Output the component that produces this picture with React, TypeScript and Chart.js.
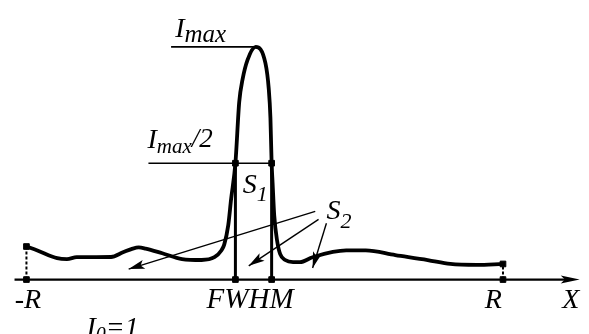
import React, { useEffect, useRef } from "react";
import { Chart, registerables } from "chart.js";

Chart.register(...registerables);

// Intensity profile (x in units where R = 100, y in units of I0)
const curveX = [-100, -95.4, -87.1, -83.0, -78.9, -64.5, -59.5, -55.4, -52.9, -50.0, -43.0, -34.7, -26.5, -21.1, -18.2, -17.0, -15.3, -14.1, -12.3, -10.7, -9.3, -7.2, -3.8, 0.3, 1.7, 2.4, 2.9, 3.3, 4.0, 5.2, 6.5, 8.6, 11.9, 14.8, 20.1, 34.2, 42.4, 54.8, 68.4, 77.9, 89.0, 100];
const curveY = [1.42, 1.25, 0.92, 0.88, 0.96, 0.97, 1.17, 1.33, 1.38, 1.33, 1.13, 0.88, 0.84, 0.96, 1.25, 1.5, 2.34, 3.46, 5.0, 7.63, 8.6, 9.44, 10.0, 9.3, 8.19, 6.94, 5.0, 4.17, 2.75, 1.67, 1.09, 0.84, 0.75, 0.75, 0.96, 1.25, 1.25, 1.05, 0.84, 0.67, 0.63, 0.67];

const R = 100;
const I_MAX = 10;
const PEAK_X = -3.8;
const FWHM_X = [-12.3, 2.9];
const END_Y = [1.42, 0.67];
const IMAX_LINE_START = -39.3;
const IHALF_LINE_START = -48.8;

// S2 pointer arrows
const arrowFromX = [21.2, 22.6, 25.9];
const arrowFromY = [2.93, 2.59, 2.42];
const arrowToX = [-57.1, -6.7, 20.1];
const arrowToY = [0.45, 0.59, 0.5];

const AXIS_START = -105;
const AXIS_END = 132.2;

const X_MIN = -109;
const X_MAX = 134;
const Y_MIN = -2.125;
const Y_MAX = 11.8;

type Part = { t: string; size: number; dy: number };
type Label = { x: number; y: number; parts: Part[] };

const labels: Label[] = [
  { x: -37.6, y: 10.42, parts: [{ t: "I", size: 28, dy: 0 }, { t: "max", size: 25, dy: 5 }] },
  { x: -49.2, y: 5.67, parts: [{ t: "I", size: 28, dy: 0 }, { t: "max", size: 21, dy: 5 }, { t: "/2", size: 27, dy: -1 }] },
  { x: -9.2, y: 3.71, parts: [{ t: "S", size: 28, dy: 0 }, { t: "1", size: 22, dy: 8 }] },
  { x: 25.9, y: 2.59, parts: [{ t: "S", size: 28, dy: 0 }, { t: "2", size: 22, dy: 9 }] },
  { x: -104.9, y: -1.21, parts: [{ t: "-R", size: 28, dy: 0 }] },
  { x: -24.4, y: -1.21, parts: [{ t: "FWHM", size: 29, dy: 0 }] },
  { x: 92.3, y: -1.21, parts: [{ t: "R", size: 28, dy: 0 }] },
  { x: 124.9, y: -1.21, parts: [{ t: "X", size: 28, dy: 0 }] },
  { x: -74.8, y: -2.41, parts: [{ t: "I", size: 28, dy: 0 }, { t: "0", size: 20, dy: 5 }, { t: "=1", size: 28, dy: 0 }] },
];

function arrowHead(ctx: CanvasRenderingContext2D, tx: number, ty: number, fx: number, fy: number, len: number, hw: number) {
  const ang = Math.atan2(ty - fy, tx - fx);
  const c = Math.cos(ang), s = Math.sin(ang);
  const bx = tx - c * len, by = ty - s * len;
  const nx = tx - c * len * 0.78, ny = ty - s * len * 0.78;
  ctx.beginPath();
  ctx.moveTo(tx, ty);
  ctx.lineTo(bx - s * hw, by + c * hw);
  ctx.lineTo(nx, ny);
  ctx.lineTo(bx + s * hw, by - c * hw);
  ctx.closePath();
  ctx.fill();
}

const overlayPlugin = {
  id: "overlay",
  afterDatasetsDraw(chart: any) {
    const ctx: CanvasRenderingContext2D = chart.ctx;
    const xs = chart.scales.x, ys = chart.scales.y;
    ctx.save();
    ctx.fillStyle = "#000";
    arrowHead(ctx, xs.getPixelForValue(AXIS_END), ys.getPixelForValue(0), xs.getPixelForValue(AXIS_START), ys.getPixelForValue(0), 19, 4);
    for (let i = 0; i < arrowToX.length; i++) {
      arrowHead(
        ctx,
        xs.getPixelForValue(arrowToX[i]), ys.getPixelForValue(arrowToY[i]),
        xs.getPixelForValue(arrowFromX[i]), ys.getPixelForValue(arrowFromY[i]),
        16, 4.5
      );
    }
    for (const lb of labels) {
      let px = xs.getPixelForValue(lb.x);
      const py = ys.getPixelForValue(lb.y);
      for (const p of lb.parts) {
        ctx.font = "italic " + p.size + "px 'Liberation Serif', serif";
        ctx.fillText(p.t, px, py + p.dy);
        px += ctx.measureText(p.t).width;
      }
    }
    ctx.restore();
  },
};

export default function App() {
  const ref = useRef<HTMLCanvasElement | null>(null);
  useEffect(() => {
    if (!ref.current) return;
    const line = (pts: { x: number; y: number }[], width: number, extra: any = {}) => ({
      data: pts,
      showLine: true,
      borderColor: "#000",
      backgroundColor: "#000",
      borderWidth: width,
      pointRadius: 0,
      fill: false,
      ...extra,
    });
    const curve = curveX.map((x, i) => ({ x, y: curveY[i] }));
    const markers = [
      { x: -R, y: 0 }, { x: -R, y: END_Y[0] },
      { x: R, y: 0 }, { x: R, y: END_Y[1] },
      { x: FWHM_X[0], y: 0 }, { x: FWHM_X[1], y: 0 },
      { x: FWHM_X[0], y: I_MAX / 2 }, { x: FWHM_X[1], y: I_MAX / 2 },
    ];
    const datasets: any[] = [
      {
        data: markers,
        showLine: false,
        pointStyle: "rect",
        pointRadius: 4,
        borderWidth: 1,
        borderColor: "#000",
        backgroundColor: "#000",
      },
      line(curve, 3.8, { cubicInterpolationMode: "monotone", borderJoinStyle: "round", borderCapStyle: "round" }),
      line([{ x: FWHM_X[0], y: 0 }, { x: FWHM_X[0], y: I_MAX / 2 }], 3),
      line([{ x: FWHM_X[1], y: 0 }, { x: FWHM_X[1], y: I_MAX / 2 }], 3),
      line([{ x: -R, y: 0 }, { x: -R, y: END_Y[0] }], 2, { borderDash: [3, 2] }),
      line([{ x: R, y: 0 }, { x: R, y: END_Y[1] }], 2, { borderDash: [3, 2] }),
      line([{ x: IMAX_LINE_START, y: I_MAX }, { x: PEAK_X, y: I_MAX }], 1.6),
      line([{ x: IHALF_LINE_START, y: I_MAX / 2 }, { x: FWHM_X[1], y: I_MAX / 2 }], 1.6),
      line([{ x: AXIS_START, y: 0 }, { x: AXIS_END - 5, y: 0 }], 2.2),
      ...arrowFromX.map((fx, i) =>
        line([{ x: fx, y: arrowFromY[i] }, { x: arrowToX[i], y: arrowToY[i] }], 1.4)
      ),
    ];
    const chart = new Chart(ref.current, {
      type: "scatter",
      data: { datasets },
      options: {
        animation: false,
        responsive: false,
        layout: { padding: 0 },
        plugins: { legend: { display: false }, tooltip: { enabled: false } },
        scales: {
          x: { type: "linear", display: false, min: X_MIN, max: X_MAX },
          y: { type: "linear", display: false, min: Y_MIN, max: Y_MAX },
        },
      },
      plugins: [overlayPlugin],
    });
    return () => chart.destroy();
  }, []);
  return (
    <canvas
      ref={ref}
      width={589}
      height={334}
      style={{ position: "absolute", left: 0, top: 0, display: "block", background: "#fff" }}
    />
  );
}
